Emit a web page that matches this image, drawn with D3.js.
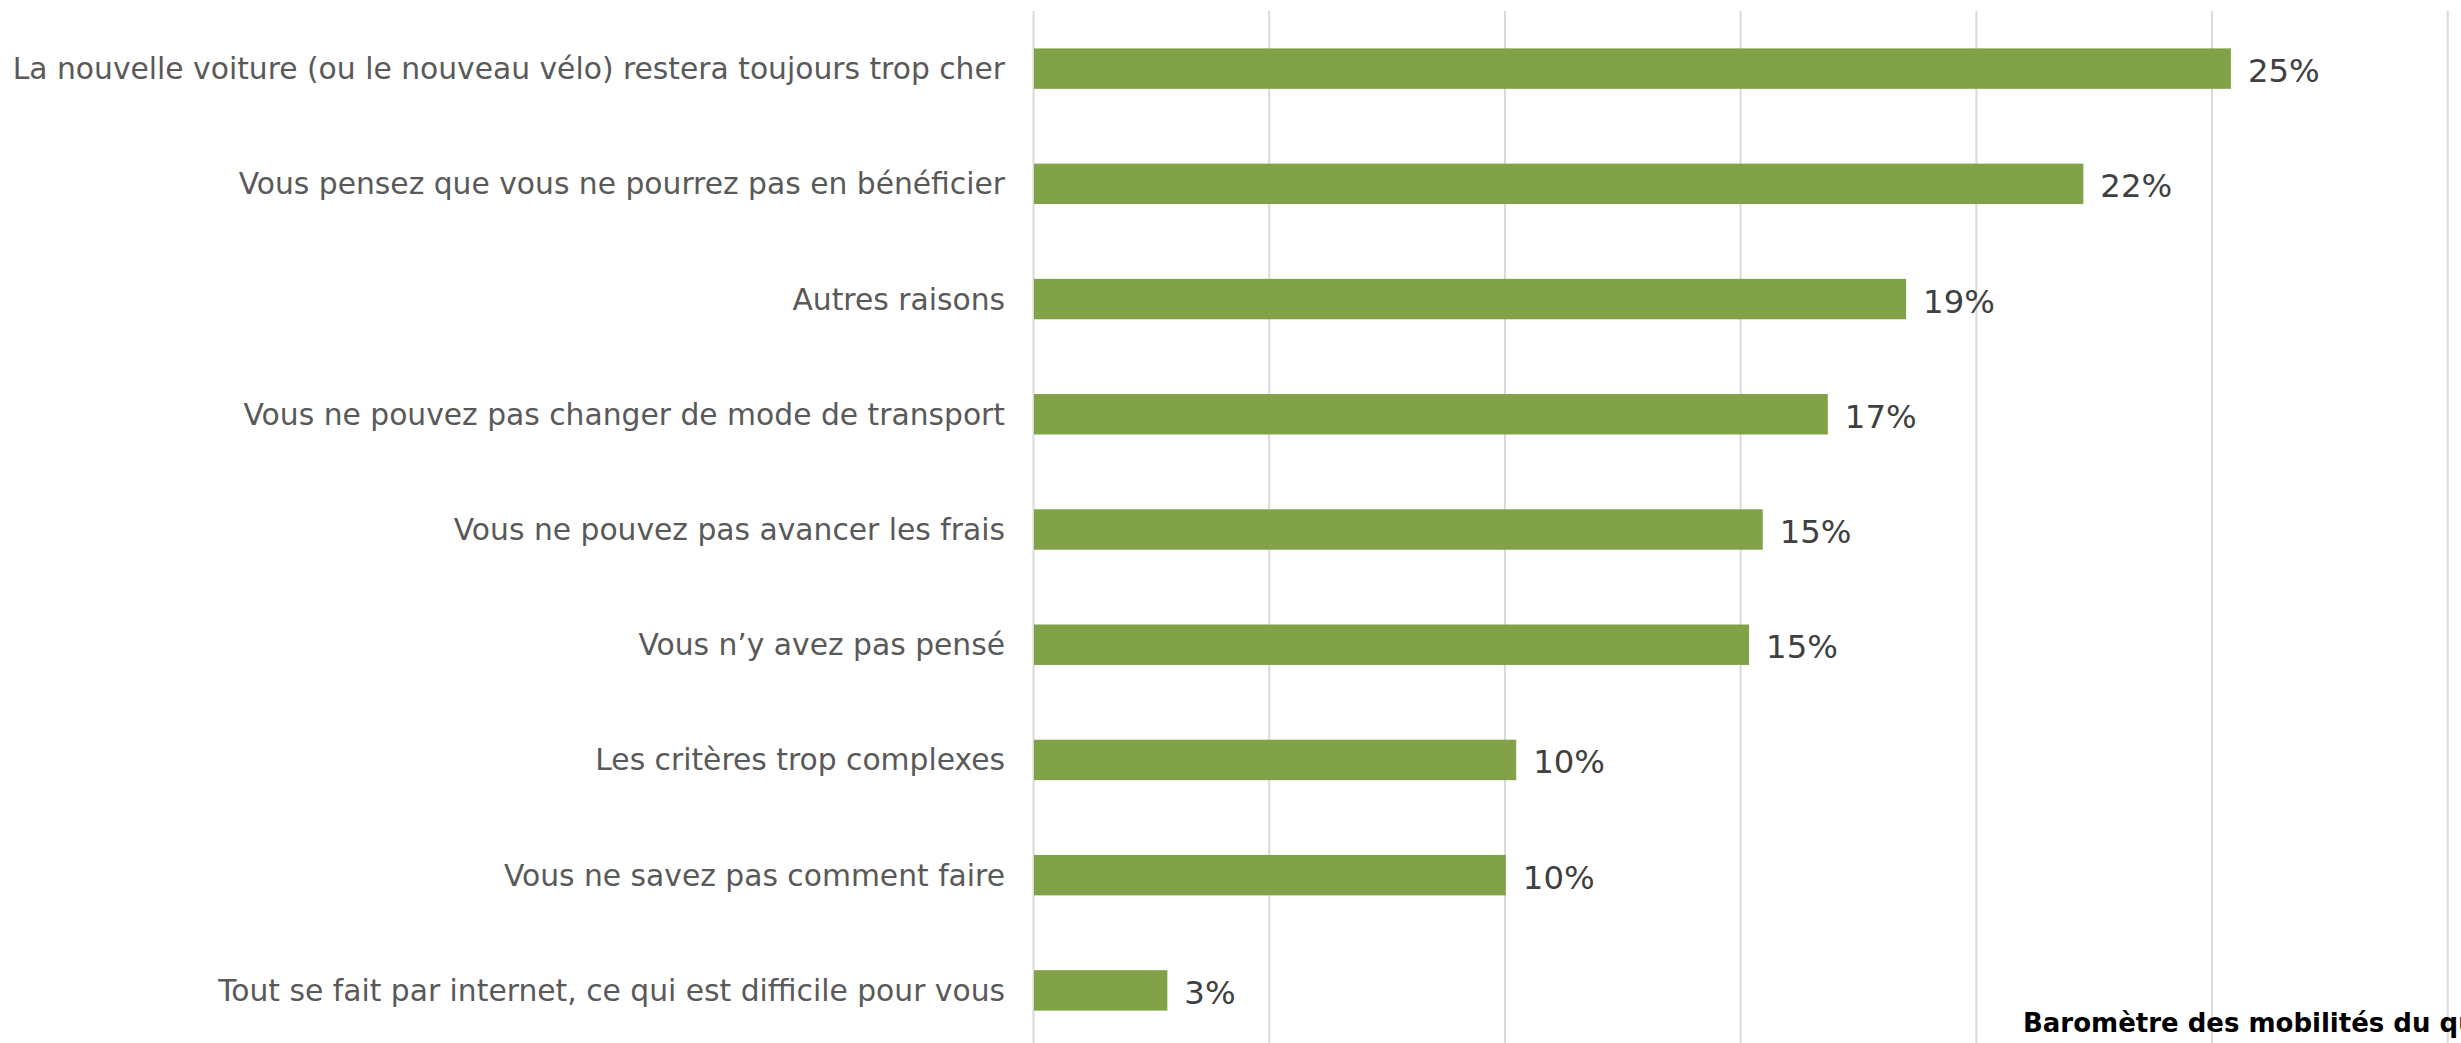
<!DOCTYPE html>
<html lang="fr">
<head>
<meta charset="utf-8">
<title>Raisons de ne pas bénéficier de la prime</title>
<script src="https://cdn.jsdelivr.net/npm/d3@7"></script>
<style>
  html, body { margin: 0; padding: 0; background: #ffffff; }
  svg { display: block; }
</style>
</head>
<body>
<div id="chart"></div>
<script>
// Survey answers, in display order (top to bottom)
const categories = [
  "La nouvelle voiture (ou le nouveau vélo) restera toujours trop cher",
  "Vous pensez que vous ne pourrez pas en bénéficier",
  "Autres raisons",
  "Vous ne pouvez pas changer de mode de transport",
  "Vous ne pouvez pas avancer les frais",
  "Vous n’y avez pas pensé",
  "Les critères trop complexes",
  "Vous ne savez pas comment faire",
  "Tout se fait par internet, ce qui est difficile pour vous"
];

// Share of respondents (%), labels are rounded to the nearest whole percent
const values = [25.41, 22.28, 18.52, 16.86, 15.48, 15.19, 10.25, 10.03, 2.85];

// Gridline positions (%)
const gridTicks = [0, 5, 10, 15, 20, 25, 30, 35];

const sourceText = "Baromètre des mobilités du quotidien";

const W = 2461, H = 1043;
const plot = { left: 1033, right: 2683, top: 11, bottom: 1048 };

const svg = d3.select("#chart").append("svg")
  .attr("width", W)
  .attr("height", H)
  .attr("viewBox", `0 0 ${W} ${H}`);

const x = d3.scaleLinear()
  .domain([0, 35])
  .range([plot.left, plot.right]);

const y = d3.scaleBand()
  .domain(categories)
  .range([plot.top, plot.bottom])
  .paddingInner(0.649)
  .paddingOuter(0.3245);

// Vertical gridlines (including the category axis at 0)
const grid = svg.append("g")
  .attr("class", "grid")
  .attr("transform", `translate(0,${plot.top})`)
  .call(d3.axisTop(x)
    .tickValues(gridTicks)
    .tickSize(-(plot.bottom - plot.top))
    .tickFormat(""));
grid.select(".domain").remove();
grid.selectAll(".tick line")
  .attr("stroke", "#d9d9d9")
  .attr("stroke-width", 2);

// Bars
svg.append("g")
  .selectAll("rect")
  .data(categories)
  .join("rect")
  .attr("x", x(0) + 1)
  .attr("y", d => y(d))
  .attr("width", (d, i) => x(values[i]) - x(0) - 1)
  .attr("height", y.bandwidth())
  .attr("fill", "#82a248");

// Category labels
svg.append("g")
  .selectAll("text")
  .data(categories)
  .join("text")
  .attr("x", plot.left - 28)
  .attr("y", d => y(d) + y.bandwidth() / 2 + 10.5)
  .attr("text-anchor", "end")
  .attr("font-family", "'DejaVu Sans', Verdana, sans-serif")
  .attr("font-size", 29.75)
  .attr("fill", "#595959")
  .text(d => d);

// Value labels
svg.append("g")
  .selectAll("text")
  .data(categories)
  .join("text")
  .attr("x", (d, i) => x(values[i]) + 17)
  .attr("y", d => y(d) + y.bandwidth() / 2 + 13.5)
  .attr("font-family", "'DejaVu Sans', Verdana, sans-serif")
  .attr("font-size", 32.3)
  .attr("fill", "#404040")
  .text((d, i) => Math.round(values[i]) + "%");

// Source line (runs past the right edge of the chart area)
svg.append("text")
  .attr("x", 2023)
  .attr("y", 1032)
  .attr("font-family", "'DejaVu Sans', Verdana, sans-serif")
  .attr("font-size", 26)
  .attr("font-weight", "bold")
  .attr("fill", "#000000")
  .text(sourceText);
</script>
</body>
</html>
